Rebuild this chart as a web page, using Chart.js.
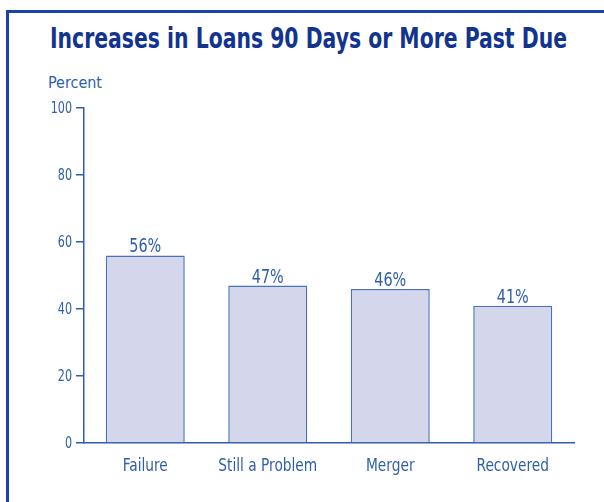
<!DOCTYPE html>
<html>
<head>
<meta charset="utf-8">
<script src="https://cdn.jsdelivr.net/npm/chart.js@4"></script>
<style>
    html, body { margin: 0; padding: 0; background: #fff; }
    body { width: 604px; height: 502px; position: relative; overflow: hidden; font-family: "DejaVu Sans Condensed", "DejaVu Sans", sans-serif; }
    .frame { position: absolute; left: 6px; top: 10px; width: 640px; height: 540px; border: 3px solid #1a43a4; box-sizing: border-box; }
    .title { position: absolute; left: 50px; top: 24px; font-size: 29px; line-height: 29px; font-weight: bold; color: #12348f; white-space: nowrap; transform-origin: 0 0; }
    .unit { position: absolute; left: 48px; top: 75px; font-size: 15px; line-height: 16px; color: #2f5fab; white-space: nowrap; transform-origin: 0 0; }
    canvas { position: absolute; left: 0; top: 0; }
</style>
</head>
<body>
<div class="frame"></div>
<div class="title" id="title">Increases in Loans 90 Days or More Past Due</div>
<div class="unit" id="unit">Percent</div>
<canvas id="loansChart" width="604" height="502"></canvas>
<script>
const categories = ['Failure', 'Still a Problem', 'Merger', 'Recovered'];
const increases = [56, 47, 46, 41];
const yTicks = [0, 20, 40, 60, 80, 100];

const blue = '#2f5fab';
const font = '"DejaVu Sans Condensed", "DejaVu Sans", sans-serif';

// squeeze text boxes to the width of the narrow original type
function fitWidth(id, target) {
    const el = document.getElementById(id);
    const w = el.getBoundingClientRect().width;
    el.style.transform = 'scaleX(' + (target / w) + ')';
}
fitWidth('title', 517);
fitWidth('unit', 54);

function narrowText(ctx, text, x, y, squeeze) {
    ctx.save();
    ctx.translate(x, y);
    ctx.scale(squeeze, 1);
    ctx.fillText(text, 0, 0);
    ctx.restore();
}

// libellés des axes et valeurs, en police étroite
const narrowLabels = {
    id: 'narrowLabels',
    afterDraw(chart) {
        const ctx = chart.ctx;
        const xs = chart.scales.x;
        const ys = chart.scales.y;
        const meta = chart.getDatasetMeta(0);
        ctx.save();
        ctx.fillStyle = blue;

        ctx.font = '20px ' + font;
        ctx.textAlign = 'center';
        ctx.textBaseline = 'alphabetic';
        meta.data.forEach((bar, i) => {
            narrowText(ctx, increases[i] + '%', bar.x, bar.y - 3, 0.8);
        });

        ctx.font = '15.5px ' + font;
        ctx.textAlign = 'right';
        ctx.textBaseline = 'middle';
        ys.ticks.forEach((t, i) => {
            narrowText(ctx, String(t.value), ys.right - 12, ys.getPixelForTick(i) + 1, 0.8);
        });

        ctx.font = '17px ' + font;
        ctx.textAlign = 'center';
        ctx.textBaseline = 'middle';
        categories.forEach((c, i) => {
            narrowText(ctx, c, xs.getPixelForTick(i), xs.top + 24, 0.9);
        });
        ctx.restore();
    }
};

new Chart(document.getElementById('loansChart'), {
    type: 'bar',
    data: {
        labels: categories,
        datasets: [{
            data: increases,
            backgroundColor: '#d4d7eb',
            borderColor: '#4a72b8',
            borderWidth: 1.5,
            categoryPercentage: 1,
            barPercentage: 0.645
        }]
    },
    options: {
        responsive: false,
        animation: false,
        layout: { padding: { top: 108, right: 30, left: 0, bottom: 0 } },
        plugins: { legend: { display: false }, tooltip: { enabled: false } },
        scales: {
            x: {
                grid: { display: false, drawTicks: false },
                border: { display: true, color: blue, width: 1.5 },
                ticks: { display: false },
                afterFit: (scale) => { scale.height = 59; }
            },
            y: {
                min: 0,
                max: 100,
                afterBuildTicks: (scale) => { scale.ticks = yTicks.map(v => ({ value: v })); },
                grid: { drawOnChartArea: false, drawTicks: true, tickLength: 8, color: blue, lineWidth: 1.5 },
                border: { display: true, color: blue, width: 1.5 },
                ticks: { display: false },
                afterFit: (scale) => { scale.width = 84; }
            }
        }
    },
    plugins: [narrowLabels]
});
</script>
</body>
</html>
